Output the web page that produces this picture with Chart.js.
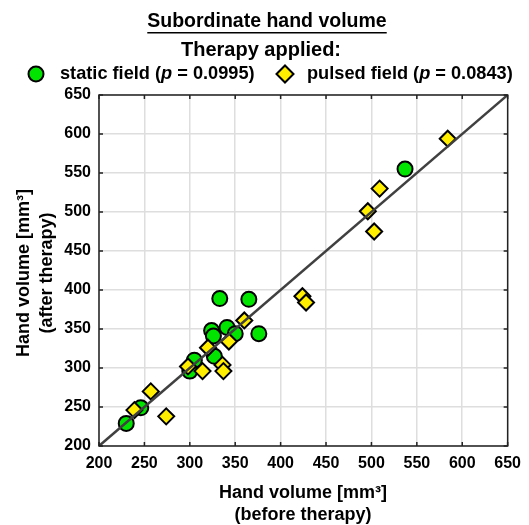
<!DOCTYPE html>
<html>
<head>
<meta charset="utf-8">
<script src="https://cdn.jsdelivr.net/npm/chart.js@4/dist/chart.umd.min.js"></script>
<style>
  body { margin: 0; background: #fff; }
  canvas { display: block; }
</style>
</head>
<body>
<canvas id="scatter" width="529" height="525"></canvas>
<script>
// values (mm3)
const staticBefore = [230, 246, 300, 305, 324, 326, 327, 333, 341, 350, 365, 376, 537];
const staticAfter  = [229, 249, 296, 310, 348, 341, 315, 389, 352, 344, 388, 344, 555];
const pulsedBefore = [239, 257, 274, 298, 314, 320, 336, 337, 343, 360, 424, 428, 496, 503, 509, 584];
const pulsedAfter  = [246, 270, 238, 302, 296, 326, 304, 296, 334, 361, 392, 384, 501, 475, 530, 594];
const identityLine = [200, 650];
const tickValues = [200, 250, 300, 350, 400, 450, 500, 550, 600, 650];

const titleText = 'Subordinate hand volume';
const legendTitle = 'Therapy applied:';
const seriesNames = ['static field', 'pulsed field'];
const pValues = ['0.0995', '0.0843'];
const xTitle = ['Hand volume [mm\u00B3]', '(before therapy)'];
const yTitle = ['Hand volume [mm\u00B3]', '(after therapy)'];

const FONT = '"Liberation Sans", Arial, sans-serif';
const GREEN = '#00e400';
const YELLOW = '#ffee00';

function toPoints(xs, ys) {
  return xs.map((x, i) => ({ x: x, y: ys[i] }));
}

// header, legend, axis titles, frame
const decor = {
  id: 'decor',
  afterDraw(chart) {
    const ctx = chart.ctx;
    const area = chart.chartArea;
    const xs = chart.scales.x, ys = chart.scales.y;
    ctx.save();
    ctx.fillStyle = '#000';
    ctx.textBaseline = 'middle';

    // title, underlined
    ctx.font = 'bold 19.5px ' + FONT;
    ctx.textAlign = 'center';
    ctx.fillText(titleText, 267, 22);
    const tw = ctx.measureText(titleText).width;
    ctx.fillRect(267 - tw / 2, 32, tw, 1.5);

    ctx.font = 'bold 20px ' + FONT;
    ctx.fillText(legendTitle, 261, 50);

    // legend row
    ctx.textAlign = 'left';
    const items = [
      { mx: 36, tx: 60, style: 'circle', color: GREEN },
      { mx: 285, tx: 307, style: 'rectRot', color: YELLOW }
    ];
    items.forEach((it, i) => {
      ctx.lineWidth = 2;
      ctx.strokeStyle = '#000';
      ctx.fillStyle = it.color;
      Chart.helpers.drawPoint(ctx, { pointStyle: it.style, radius: it.style === 'circle' ? 7.5 : 8.5, borderWidth: 2 }, it.mx, 74);
      ctx.fillStyle = '#000';
      let x = it.tx;
      const parts = [
        [seriesNames[i] + ' (', 'bold '],
        ['p', 'bold italic '],
        [' = ' + pValues[i] + ')', 'bold ']
      ];
      parts.forEach(p => {
        ctx.font = p[1] + '18.2px ' + FONT;
        ctx.fillText(p[0], x, 74);
        x += ctx.measureText(p[0]).width;
      });
    });

    // axis titles
    ctx.font = 'bold 18px ' + FONT;
    ctx.textAlign = 'center';
    ctx.fillText(xTitle[0], 303, 493);
    ctx.fillText(xTitle[1], 303, 515);
    ctx.save();
    ctx.translate(24, 273);
    ctx.rotate(-Math.PI / 2);
    ctx.fillText(yTitle[0], 0, 0);
    ctx.fillText(yTitle[1], 0, 23);
    ctx.restore();

    // frame with inward ticks
    ctx.strokeStyle = '#222';
    ctx.lineWidth = 1.5;
    ctx.strokeRect(area.left, area.top, area.right - area.left, area.bottom - area.top);
    ctx.beginPath();
    tickValues.forEach(v => {
      const px = xs.getPixelForValue(v);
      const py = ys.getPixelForValue(v);
      ctx.moveTo(px, area.bottom); ctx.lineTo(px, area.bottom - 4);
      ctx.moveTo(px, area.top); ctx.lineTo(px, area.top + 4);
      ctx.moveTo(area.left, py); ctx.lineTo(area.left + 4, py);
      ctx.moveTo(area.right, py); ctx.lineTo(area.right - 4, py);
    });
    ctx.stroke();
    ctx.restore();
  }
};

const tickFont = { family: FONT, size: 16, weight: 'bold' };

new Chart(document.getElementById('scatter'), {
  type: 'scatter',
  data: {
    datasets: [
      {
        type: 'line',
        data: toPoints(identityLine, identityLine),
        borderColor: '#404040',
        borderWidth: 2.5,
        pointRadius: 0,
        fill: false
      },
      {
        label: seriesNames[1],
        data: toPoints(pulsedBefore, pulsedAfter),
        pointStyle: 'rectRot',
        pointRadius: 8,
        backgroundColor: YELLOW,
        borderColor: '#000',
        borderWidth: 2
      },
      {
        label: seriesNames[0],
        data: toPoints(staticBefore, staticAfter),
        pointStyle: 'circle',
        pointRadius: 7.5,
        backgroundColor: GREEN,
        borderColor: '#000',
        borderWidth: 2
      }
    ]
  },
  options: {
    responsive: false,
    animation: false,
    layout: { padding: { top: 95, right: 13, left: 0, bottom: 0 } },
    plugins: { legend: { display: false }, tooltip: { enabled: false } },
    scales: {
      x: {
        type: 'linear', min: 200, max: 650,
        afterFit: s => { s.height = 79; },
        afterBuildTicks: s => { s.ticks = tickValues.map(v => ({ value: v })); },
        ticks: { font: tickFont, color: '#000', padding: 8 },
        grid: { color: '#dedede', lineWidth: 1.5, drawTicks: false },
        border: { display: false }
      },
      y: {
        type: 'linear', min: 200, max: 650,
        afterFit: s => { s.width = 99; },
        afterBuildTicks: s => { s.ticks = tickValues.map(v => ({ value: v })); },
        ticks: { font: tickFont, color: '#000', padding: 8 },
        grid: { color: '#dedede', lineWidth: 1.5, drawTicks: false },
        border: { display: false }
      }
    }
  },
  plugins: [decor]
});
</script>
</body>
</html>
